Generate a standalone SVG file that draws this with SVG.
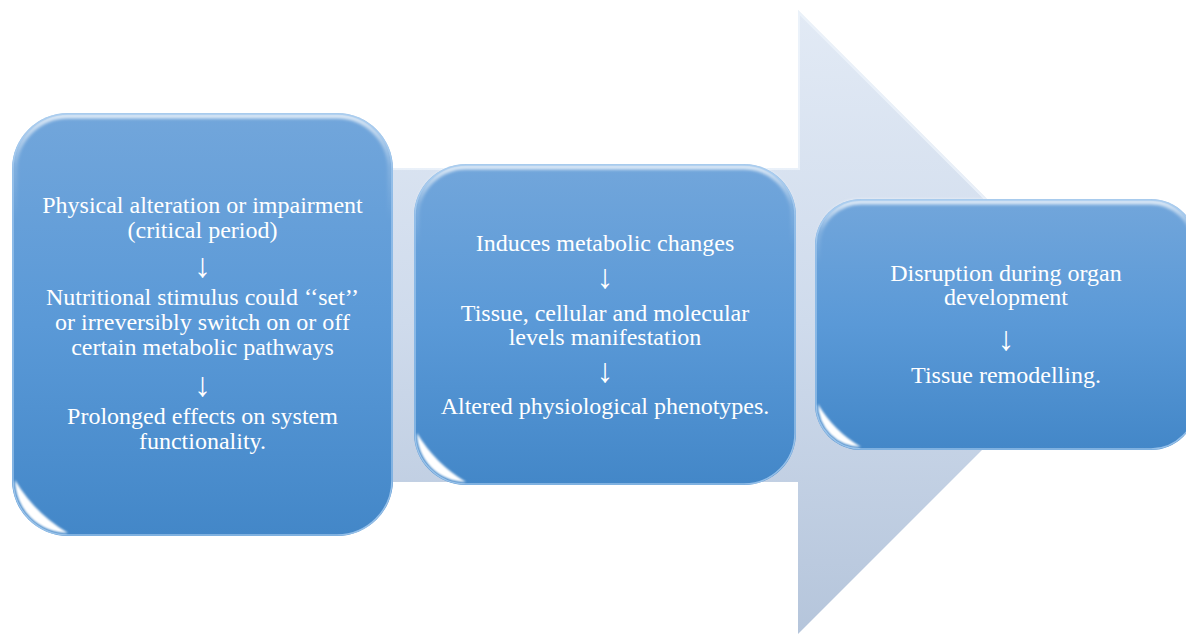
<svg xmlns="http://www.w3.org/2000/svg" width="1186" height="635" viewBox="0 0 1186 635">
  <defs>
    <linearGradient id="arrowFill" x1="0" y1="10" x2="0" y2="634" gradientUnits="userSpaceOnUse">
      <stop offset="0" stop-color="#e2eaf5"/>
      <stop offset="0.5" stop-color="#cfdbec"/>
      <stop offset="1" stop-color="#b5c5db"/>
    </linearGradient>
    <linearGradient id="boxFill" x1="0" y1="0" x2="0" y2="1">
      <stop offset="0" stop-color="#72a6db"/>
      <stop offset="0.5" stop-color="#5a99d7"/>
      <stop offset="1" stop-color="#4387c8"/>
    </linearGradient>
    <linearGradient id="topShine" x1="0" y1="0" x2="0" y2="1">
      <stop offset="0" stop-color="#ffffff" stop-opacity="0.75"/>
      <stop offset="0.12" stop-color="#ffffff" stop-opacity="0.15"/>
      <stop offset="0.25" stop-color="#ffffff" stop-opacity="0"/>
      <stop offset="1" stop-color="#ffffff" stop-opacity="0"/>
    </linearGradient>
    <filter id="soft" x="-10%" y="-10%" width="120%" height="120%">
      <feGaussianBlur stdDeviation="1.6"/>
    </filter>
    <filter id="glow" x="-30%" y="-30%" width="160%" height="160%">
      <feGaussianBlur stdDeviation="1"/>
    </filter>
  </defs>
  <style>
    .box { fill: url(#boxFill); }
    .rim { fill: none; stroke: #a9cdf0; stroke-width: 1.5; opacity: 0.8; }
    .shine { fill: none; stroke: url(#topShine); stroke-width: 5; filter: url(#soft); }
    .glint { fill: #ffffff; filter: url(#glow); }
    .label { font-family: "Liberation Serif", "Times New Roman", serif; font-size: 24px; fill: #ffffff; text-anchor: middle; }
    .down { font-family: "Liberation Serif", "Times New Roman", serif; font-size: 34px; fill: #ffffff; text-anchor: middle; }
  </style>

  <rect width="1186" height="635" fill="#ffffff"/>

  <!-- background process arrow -->
  <g id="connectors">
    <polygon points="20,168 798,168 798,10 1110,322 798,634 798,482 20,482" fill="url(#arrowFill)"/>
    <polyline points="20,169 799,169 799,13 1108,322" fill="none" stroke="#eef4fb" stroke-width="2" opacity="0.8"/>
  </g>

  <!-- stage 1 -->
  <g id="node-1">
    <rect class="box" x="12" y="113" width="381" height="423" rx="56"/>
    <rect class="shine" x="15" y="116" width="375" height="417" rx="53"/>
    <rect class="rim" x="13" y="114" width="379" height="421" rx="55"/>
    <!-- bevel glint in the lower-left corner -->
    <path class="glint" d="M15,480 A53,53 0 0 0 68,533 A150,150 0 0 1 15,480 Z"/>
    <text class="label" x="202.5" y="213">Physical alteration or impairment</text>
    <text class="label" x="202.5" y="238">(critical period)</text>
    <text class="down" x="202.5" y="277">↓</text>
    <text class="label" x="202.5" y="305">Nutritional stimulus could &#8216;&#8216;set&#8217;&#8217;</text>
    <text class="label" x="202.5" y="330">or irreversibly switch on or off</text>
    <text class="label" x="202.5" y="355">certain metabolic pathways</text>
    <text class="down" x="202.5" y="396">↓</text>
    <text class="label" x="202.5" y="424">Prolonged effects on system</text>
    <text class="label" x="202.5" y="449">functionality.</text>
  </g>

  <!-- stage 2 -->
  <g id="node-2">
    <rect class="box" x="414" y="164" width="382" height="321" rx="52"/>
    <rect class="shine" x="417" y="167" width="376" height="315" rx="49"/>
    <rect class="rim" x="415" y="165" width="380" height="319" rx="51"/>
    <path class="glint" d="M417,433 A49,49 0 0 0 466,482 A140,140 0 0 1 417,433 Z"/>
    <text class="label" x="605" y="251">Induces metabolic changes</text>
    <text class="down" x="605" y="288">↓</text>
    <text class="label" x="605" y="321">Tissue, cellular and molecular</text>
    <text class="label" x="605" y="345">levels manifestation</text>
    <text class="down" x="605" y="382">↓</text>
    <text class="label" x="605" y="414">Altered physiological phenotypes.</text>
  </g>

  <!-- stage 3 -->
  <g id="node-3">
    <rect class="box" x="815" y="199" width="382" height="251" rx="46"/>
    <rect class="shine" x="818" y="202" width="376" height="245" rx="43"/>
    <rect class="rim" x="816" y="200" width="380" height="249" rx="45"/>
    <path class="glint" d="M818,404 A43,43 0 0 0 861,447 A120,120 0 0 1 818,404 Z"/>
    <text class="label" x="1006" y="281">Disruption during organ</text>
    <text class="label" x="1006" y="305">development</text>
    <text class="down" x="1006" y="350">↓</text>
    <text class="label" x="1006" y="383">Tissue remodelling.</text>
  </g>
</svg>
